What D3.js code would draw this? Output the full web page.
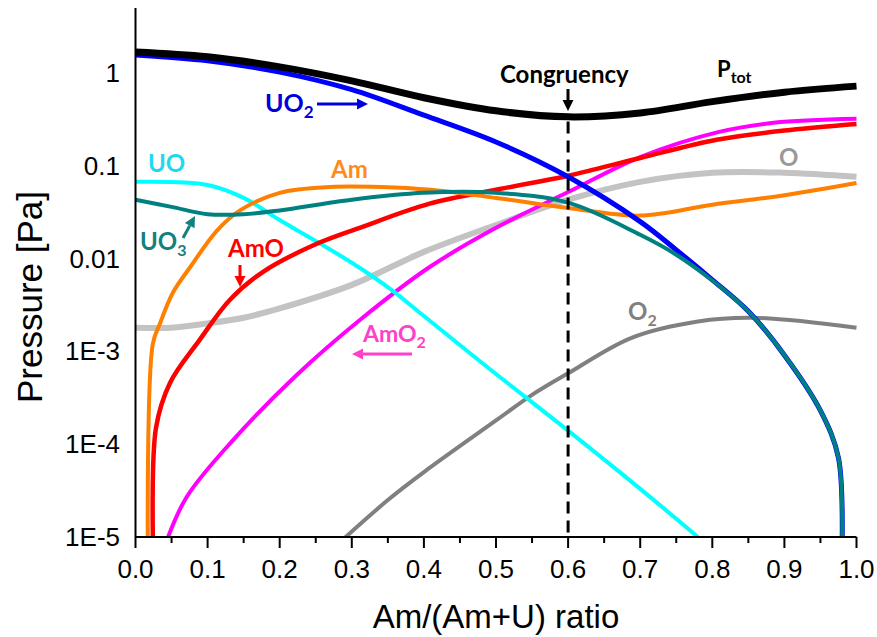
<!DOCTYPE html>
<html><head><meta charset="utf-8">
<script src="https://cdn.jsdelivr.net/npm/d3@7"></script>
<style>
html,body{margin:0;padding:0;background:#fff;}
svg{display:block;}
</style></head>
<body>
<svg id="chart" width="877" height="637"></svg>
<script>
// ---- data (Am/(Am+U) ratio vs pressure in Pa) ----
const xTicks = [0,0.1,0.2,0.3,0.4,0.5,0.6,0.7,0.8,0.9,1.0];
const xTickLabels = ["0.0","0.1","0.2","0.3","0.4","0.5","0.6","0.7","0.8","0.9","1.0"];
const yTicks = [1,0.1,0.01,1e-3,1e-4,1e-5];
const yTickLabels = ["1","0.1","0.01","1E-3","1E-4","1E-5"];

const ptotX = [0,0.1,0.2,0.3,0.4,0.5,0.6,0.7,0.8,0.9,1.0];
const ptotY = [1.68,1.49,1.16,0.82,0.54,0.39,0.336,0.37,0.49,0.62,0.72];

const uo2X = [0,0.1,0.2,0.3,0.4,0.5,0.6,0.7,0.75,0.8,0.85,0.9,0.95,0.975,0.98];
const uo2Y = [1.56,1.35,1.02,0.66,0.35,0.18,0.076,0.025,0.0124,0.0059,0.0027,9.1e-4,2.3e-4,7.1e-5,8e-6];

const uo3X = [0,0.05,0.1,0.15,0.2,0.3,0.4,0.5,0.6,0.7,0.75,0.8,0.85,0.9,0.95,0.975,0.98];
const uo3Y = [0.043,0.036,0.030,0.030,0.033,0.043,0.051,0.051,0.040,0.018,0.011,0.0058,0.0027,9.1e-4,2.3e-4,7.1e-5,8e-6];

const uoX = [0,0.1,0.15,0.2,0.3,0.355,0.4,0.5,0.6,0.7,0.78];
const uoY = [0.067,0.062,0.045,0.026,0.0090,0.0046,0.0024,5.7e-4,1.4e-4,3.3e-5,1e-5];

const amX = [0.017,0.024,0.034,0.052,0.076,0.113,0.145,0.2,0.27,0.34,0.41,0.5,0.6,0.7,0.8,0.9,1.0];
const amY = [8e-6,0.0012,0.0020,0.0043,0.0081,0.020,0.033,0.051,0.059,0.059,0.055,0.045,0.035,0.029,0.038,0.048,0.065];

const amoX = [0.0243,0.0284,0.048,0.089,0.131,0.177,0.246,0.311,0.408,0.505,0.6,0.7,0.806,0.908,1.0];
const amoY = [8e-6,1.5e-4,4.6e-4,0.00133,0.0036,0.0072,0.0138,0.0214,0.039,0.056,0.078,0.121,0.19,0.243,0.282];

const amo2X = [0.043,0.071,0.135,0.224,0.315,0.408,0.5,0.6,0.7,0.808,0.885,1.0];
const amo2Y = [9e-6,2.7e-5,1.1e-4,5.6e-4,0.0023,0.0081,0.0214,0.052,0.124,0.23,0.29,0.32];

const oX = [0,0.05,0.1,0.15,0.2,0.3,0.4,0.5,0.6,0.7,0.8,0.9,1.0];
const oY = [0.0018,0.0018,0.0020,0.0023,0.0029,0.0052,0.0118,0.023,0.043,0.067,0.084,0.084,0.076];

const o2X = [0.285,0.35,0.4,0.5,0.55,0.6,0.688,0.78,0.857,1.0];
const o2Y = [9e-6,2.5e-5,5e-5,1.8e-4,3.4e-4,5.8e-4,0.0014,0.0021,0.0023,0.0018];

const congruency = 0.6;

// ---- layout ----
const svg = d3.select("#chart");
const L = 135.5, R = 856.5, T = 8, B = 537;
const x = d3.scaleLinear().domain([0,1]).range([L,R]);
const y = d3.scaleLog().domain([1e-5,5]).range([B,T]);

svg.append("defs").append("clipPath").attr("id","plotclip")
  .append("rect").attr("x",L).attr("y",T).attr("width",R-L+2).attr("height",B-T);

const series = [
  {xs:oX,   ys:oY,   color:"#c3c3c3", w:6},
  {xs:o2X,  ys:o2Y,  color:"#808080", w:4},
  {xs:amo2X,ys:amo2Y,color:"#ff00ff", w:4},
  {xs:uoX,  ys:uoY,  color:"#00ffff", w:4},
  {xs:amoX, ys:amoY, color:"#ff0000", w:4.5},
  {xs:amX,  ys:amY,  color:"#ff8000", w:4},
  {xs:uo2X, ys:uo2Y, color:"#0000ff", w:5},
  {xs:uo3X, ys:uo3Y, color:"#008080", w:4},
  {xs:ptotX,ys:ptotY,color:"#000000", w:7}
];

const line = d3.line().x(d=>x(d[0])).y(d=>y(d[1])).curve(d3.curveCatmullRom.alpha(0.5));
const g = svg.append("g").attr("clip-path","url(#plotclip)");
series.forEach(s=>{
  g.append("path").datum(s.xs.map((v,i)=>[v,s.ys[i]]))
    .attr("d",line).attr("fill","none").attr("stroke",s.color)
    .attr("stroke-width",s.w).attr("stroke-linejoin","round");
});

// congruency dashed line
svg.append("line").attr("x1",x(congruency)).attr("x2",x(congruency))
  .attr("y1",y(0.30)).attr("y2",B)
  .attr("stroke","#000").attr("stroke-width",3).attr("stroke-dasharray","12,7");

// axes
const ax = svg.append("g");
ax.append("line").attr("x1",L).attr("x2",R).attr("y1",B).attr("y2",B).attr("stroke","#000").attr("stroke-width",2);
ax.append("line").attr("x1",L).attr("x2",L).attr("y1",T).attr("y2",B).attr("stroke","#000").attr("stroke-width",2);
d3.range(0,21).forEach(i=>{
  const v = i*0.05, major = i%2===0;
  ax.append("line").attr("x1",x(v)).attr("x2",x(v)).attr("y1",B).attr("y2",B+(major?11:6))
    .attr("stroke","#000").attr("stroke-width",2);
});
xTicks.forEach((v,i)=>{
  svg.append("text").attr("x",x(v)).attr("y",578).attr("text-anchor","middle")
    .attr("font-family","Liberation Sans, Arial, sans-serif").attr("font-size",26)
    .attr("fill","#000").text(xTickLabels[i]);
});
yTicks.forEach((v,i)=>{
  svg.append("text").attr("x",120).attr("y",y(v)+9).attr("text-anchor","end")
    .attr("font-family","Liberation Sans, Arial, sans-serif").attr("font-size",26)
    .attr("fill","#000").text(yTickLabels[i]);
});
svg.append("text").attr("x",(L+R)/2).attr("y",628).attr("text-anchor","middle")
  .attr("font-family","Liberation Sans, Arial, sans-serif").attr("font-size",33)
  .attr("fill","#000").text("Am/(Am+U) ratio");
svg.append("text").attr("transform","translate(42,297) rotate(-90)").attr("text-anchor","middle")
  .attr("font-family","Liberation Sans, Arial, sans-serif").attr("font-size",35)
  .attr("fill","#000").text("Pressure [Pa]");

// annotations
const F = "Lato, 'Open Sans', sans-serif";
function label(xp, yp, main, sub, color, size, subSize){
  const t = svg.append("text").attr("x",xp).attr("y",yp).attr("font-family",F)
    .attr("font-weight","bold").attr("font-size",size).attr("fill",color);
  t.append("tspan").text(main);
  if(sub) t.append("tspan").attr("font-size",subSize||size*0.68).attr("dy",6).text(sub);
}
function arrow(x1,y1,x2,y2,color,w){
  const ang = Math.atan2(y2-y1,x2-x1), hl=11, hw=5.5;
  const bx = x2-hl*Math.cos(ang), by = y2-hl*Math.sin(ang);
  svg.append("line").attr("x1",x1).attr("y1",y1).attr("x2",bx).attr("y2",by)
    .attr("stroke",color).attr("stroke-width",w||3);
  svg.append("path").attr("d",`M${x2},${y2}L${bx-hw*Math.sin(ang)},${by+hw*Math.cos(ang)}L${bx+hw*Math.sin(ang)},${by-hw*Math.cos(ang)}Z`)
    .attr("fill",color);
}
label(265,112,"UO","2","#0000dd",25,17);
arrow(317,104,368,104,"#0000dd",3);
label(148,172,"UO",null,"#1ed8f2",24);
label(331,178,"Am",null,"#ff8c1a",24);
label(140,250,"UO","3","#138080",24,16);
arrow(183,238,195,216,"#138080",3);
label(228,257,"AmO",null,"#ff0000",24);
arrow(240,265,240,287,"#ff0000",3);
label(363,342,"AmO","2","#ff40c8",23,16);
arrow(412,354,352,354,"#ff40c8",3);
label(779,166,"O",null,"#999999",24);
label(628,320,"O","2","#808080",24,16);
svg.append("text").attr("x",500).attr("y",83).attr("font-family",F).attr("font-weight","bold")
  .attr("font-size",24).attr("fill","#000").text("Congruency");
arrow(568,89,568,111,"#000",3);
label(717,77,"P","tot","#000",22,16);
</script>
</body></html>
